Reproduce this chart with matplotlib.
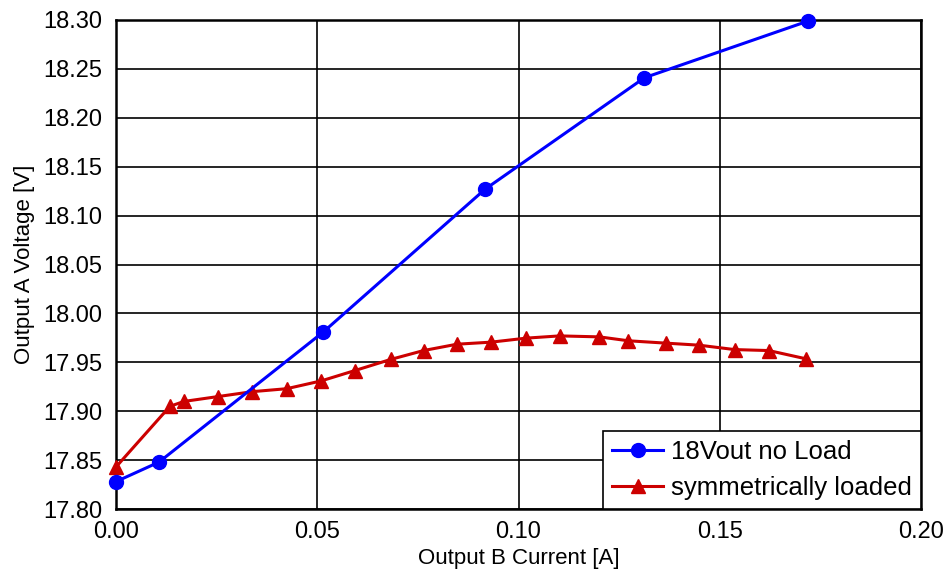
import matplotlib.pyplot as plt

plt.rcParams['font.family'] = ['Liberation Sans', 'DejaVu Sans']

# 18Vout, no load on output A
noload_i = [0.0, 0.0107, 0.0515, 0.0917, 0.1313, 0.1720]
noload_v = [17.828, 17.848, 17.981, 18.127, 18.241, 18.299]

# symmetrically loaded
sym_i = [0.0, 0.0134, 0.0169, 0.0254, 0.0339, 0.0424, 0.0510, 0.0593, 0.0683,
         0.0764, 0.0847, 0.0932, 0.1019, 0.1102, 0.1201, 0.1273, 0.1366,
         0.1449, 0.1537, 0.1622, 0.1715]
sym_v = [17.843, 17.905, 17.910, 17.915, 17.920, 17.923, 17.931, 17.9415, 17.953,
         17.962, 17.9685, 17.9706, 17.9747, 17.977, 17.976, 17.972, 17.9696,
         17.9675, 17.963, 17.962, 17.9535]

x_ticks = [0.0, 0.05, 0.10, 0.15, 0.20]
y_ticks = [17.80, 17.85, 17.90, 17.95, 18.00, 18.05, 18.10, 18.15, 18.20, 18.25, 18.30]

fig = plt.figure(figsize=(9.5, 5.71), dpi=100)
ax = fig.add_axes([116 / 950, 1 - 509 / 571, (921 - 116) / 950, (509 - 20) / 571])

ax.plot(noload_i, noload_v, color='#0000ff', lw=2.2, marker='o', ms=10,
        label='18Vout no Load', clip_on=False, zorder=4)
ax.plot(sym_i, sym_v, color='#cc0000', lw=2.2, marker='^', ms=10,
        label='symmetrically loaded', clip_on=False, zorder=3)

ax.set_xlim(0, 0.20)
ax.set_ylim(17.80, 18.30)
ax.set_xticks(x_ticks)
ax.set_yticks(y_ticks)
ax.set_xticklabels([f'{v:.2f}' for v in x_ticks])
ax.set_yticklabels([f'{v:.2f}' for v in y_ticks])
ax.tick_params(length=0, labelsize=17)
ax.tick_params(axis='x', pad=9)
ax.tick_params(axis='y', pad=10)
ax.grid(True, color='black', lw=1.2)
ax.set_axisbelow(True)
for s in ax.spines.values():
    s.set_linewidth(1.8)
    s.set_color('black')

ax.set_xlabel('Output B Current [A]', fontsize=16, labelpad=3)
ax.set_ylabel('Output A Voltage [V]', fontsize=16, labelpad=6)

leg = ax.legend(loc='lower right', fontsize=18.5, fancybox=False, framealpha=1,
                edgecolor='black', borderaxespad=0, handlelength=2.0,
                handletextpad=0.3, borderpad=0.35, labelspacing=0.45)
leg.get_frame().set_linewidth(1.2)
leg.set_zorder(10)

fig.savefig('out.png', dpi=100)
